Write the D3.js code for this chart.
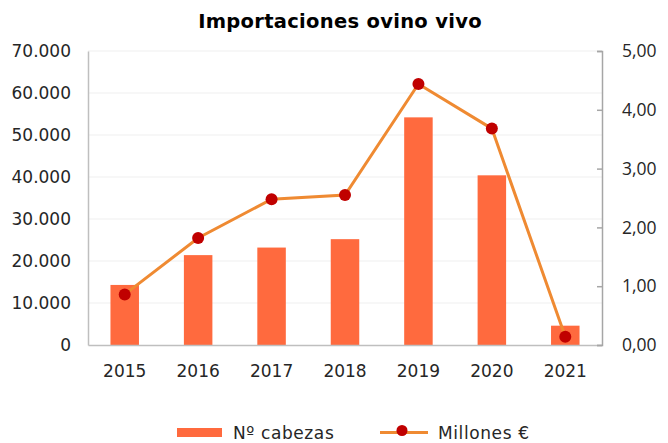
<!DOCTYPE html>
<html lang="es">
<head>
<meta charset="UTF-8">
<title>Importaciones ovino vivo</title>
<script src="https://d3js.org/d3.v7.min.js"></script>
<style>
    body { margin: 0; background: #fff; }
    .lbl { font-family: "DejaVu Sans", sans-serif; font-size: 17px; fill: #262626; }
    .rlbl { font-family: "Open Sans", sans-serif; font-size: 17.5px; fill: #262626; }
    .leg { font-family: "DejaVu Sans", sans-serif; font-size: 17px; fill: #262626; letter-spacing: 0.6px; }
</style>
</head>
<body>
<svg></svg>
<script>
    var years = ["2015", "2016", "2017", "2018", "2019", "2020", "2021"];
    var cabezas = [14300, 21400, 23200, 25200, 54200, 40400, 4600];
    var millones = [0.86, 1.82, 2.48, 2.55, 4.44, 3.68, 0.14];
    var leftTicks = [0, 10000, 20000, 30000, 40000, 50000, 60000, 70000];
    var rightTicks = [0, 1, 2, 3, 4, 5];

    var w = 668, h = 443;
    var pad = { top: 51, right: 66, bottom: 98, left: 88 };

    var svg = d3.select("svg").attr("width", w).attr("height", h);

    var x = d3.scaleBand().domain(years).range([pad.left, w - pad.right]);
    var yL = d3.scaleLinear().domain([0, 70000]).range([h - pad.bottom, pad.top]);
    var yR = d3.scaleLinear().domain([0, 5]).range([h - pad.bottom, pad.top]);

    var fmtL = function(d) { return d3.format(",")(d).replace(/,/g, "."); };
    var fmtR = function(d) { return d3.format(".2f")(d).replace(".", ","); };

    // gridlines
    svg.append("g").selectAll("line").data(leftTicks.slice(1)).join("line")
        .attr("x1", pad.left).attr("x2", w - pad.right)
        .attr("y1", d => yL(d)).attr("y2", d => yL(d))
        .attr("stroke", "#f0f0f0").attr("stroke-width", 1.2);

    // left axis
    var gL = svg.append("g").attr("transform", "translate(" + pad.left + ",0)")
        .call(d3.axisLeft(yL).tickValues(leftTicks).tickFormat(fmtL).tickSize(0).tickPadding(17));
    gL.select(".domain").attr("stroke", "#bfbfbf").attr("stroke-width", 1.5);
    gL.selectAll("text").attr("class", "lbl").attr("font-family", null).attr("font-size", null);

    // bars
    var barW = 28.5;
    svg.append("g").selectAll("rect").data(years).join("rect")
        .attr("x", d => x(d) + x.bandwidth() / 2 - barW / 2)
        .attr("y", (d, i) => yL(cabezas[i]))
        .attr("width", barW)
        .attr("height", (d, i) => yL(0) - yL(cabezas[i]))
        .attr("fill", "#ff6a3e");

    // bottom axis
    var gB = svg.append("g").attr("transform", "translate(0," + (h - pad.bottom) + ")")
        .call(d3.axisBottom(x).tickSize(0).tickPadding(20));
    gB.select(".domain").attr("stroke", "#bfbfbf").attr("stroke-width", 1.5);
    gB.selectAll("text").attr("class", "lbl").attr("font-family", null).attr("font-size", null);

    // right axis
    var gR = svg.append("g").attr("transform", "translate(" + (w - pad.right) + ",0)")
        .call(d3.axisRight(yR).tickValues(rightTicks).tickFormat(fmtR).tickSizeInner(-5).tickSizeOuter(-5).tickPadding(20));
    gR.select(".domain").attr("stroke", "#a6a6a6").attr("stroke-width", 1.5);
    gR.selectAll(".tick line").attr("stroke", "#a6a6a6").attr("stroke-width", 1.5);
    gR.selectAll("text").attr("class", "rlbl").attr("font-family", null).attr("font-size", null);

    // line
    var line = d3.line()
        .x((d, i) => x(years[i]) + x.bandwidth() / 2)
        .y(d => yR(d));
    svg.append("path").datum(millones)
        .attr("d", line)
        .attr("fill", "none")
        .attr("stroke", "#ef8a32")
        .attr("stroke-width", 3);
    svg.append("g").selectAll("circle").data(millones).join("circle")
        .attr("cx", (d, i) => x(years[i]) + x.bandwidth() / 2)
        .attr("cy", d => yR(d))
        .attr("r", 6)
        .attr("fill", "#c00000");

    // title
    svg.append("text")
        .attr("x", 340).attr("y", 28)
        .attr("text-anchor", "middle")
        .attr("font-family", "DejaVu Sans, sans-serif")
        .attr("font-weight", "bold")
        .attr("font-size", 19.5)
        .attr("letter-spacing", 0.3)
        .attr("fill", "#000")
        .text("Importaciones ovino vivo");

    // legend
    var leg = svg.append("g");
    leg.append("rect").attr("x", 177).attr("y", 428).attr("width", 45).attr("height", 9).attr("fill", "#ff6a3e");
    leg.append("text").attr("class", "leg").attr("x", 233).attr("y", 439).text("Nº cabezas");
    leg.append("line").attr("x1", 380).attr("x2", 428).attr("y1", 432.5).attr("y2", 432.5)
        .attr("stroke", "#ef8a32").attr("stroke-width", 3);
    leg.append("circle").attr("cx", 402).attr("cy", 430.5).attr("r", 5.5).attr("fill", "#c00000");
    leg.append("text").attr("class", "leg").attr("x", 438).attr("y", 439).text("Millones €");
</script>
</body>
</html>
